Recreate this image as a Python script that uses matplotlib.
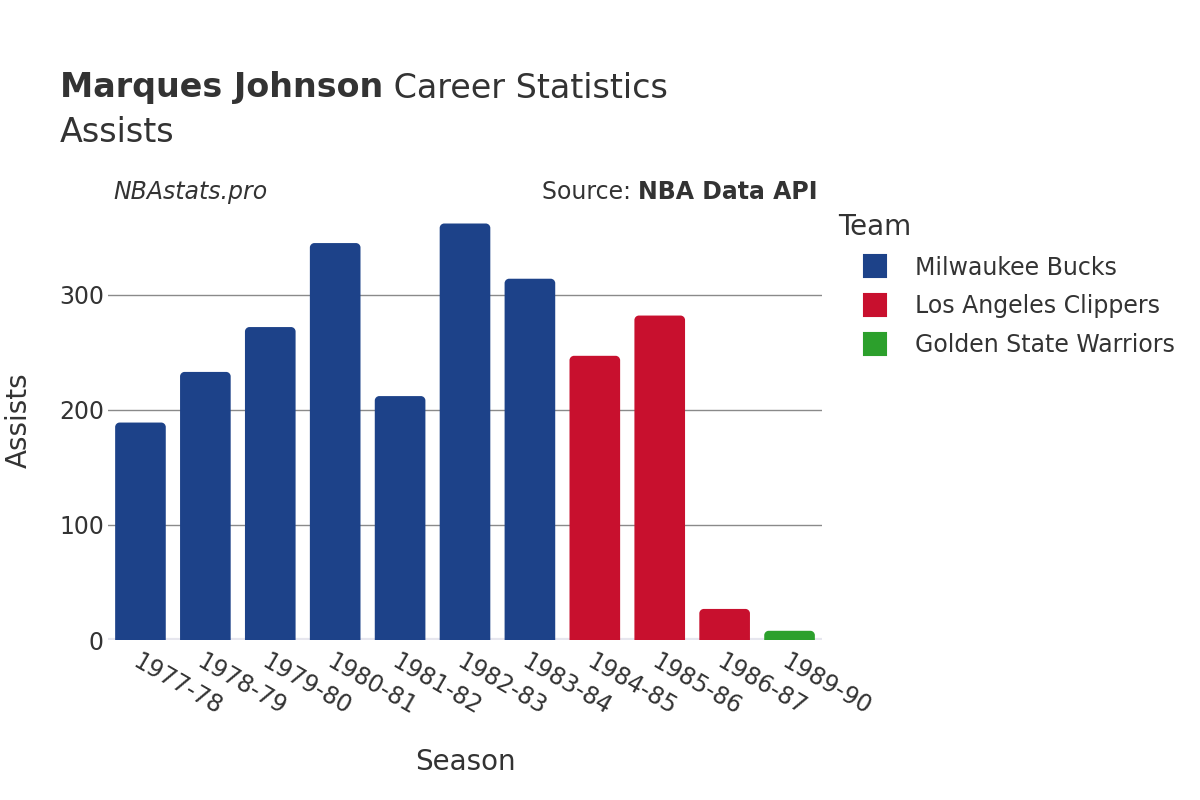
import matplotlib
matplotlib.use("Agg")
import matplotlib.pyplot as plt
from matplotlib.patches import PathPatch
from matplotlib.path import Path
from matplotlib.lines import Line2D

seasons = ["1977-78", "1978-79", "1979-80", "1980-81", "1981-82", "1982-83",
           "1983-84", "1984-85", "1985-86", "1986-87", "1989-90"]
assists = [189, 233, 272, 345, 212, 362, 314, 247, 282, 27, 8]
teams = ["Milwaukee Bucks"] * 7 + ["Los Angeles Clippers"] * 3 + ["Golden State Warriors"]

team_names = ["Milwaukee Bucks", "Los Angeles Clippers", "Golden State Warriors"]
team_colors = {"Milwaukee Bucks": "#1d4289",
               "Los Angeles Clippers": "#c8102e",
               "Golden State Warriors": "#2ca02c"}

TEXT = "#333333"
plt.rcParams["font.family"] = ["DejaVu Sans"]


def rounded_top_bar(x0, x1, top, rx, ry):
    """Bar path with the two top corners rounded (quarter ellipses in data units)."""
    k = 0.5523
    verts = [
        (x0, 0), (x0, top - ry),
        (x0, top - ry + k * ry), (x0 + rx - k * rx, top), (x0 + rx, top),
        (x1 - rx, top),
        (x1 - rx + k * rx, top), (x1, top - ry + k * ry), (x1, top - ry),
        (x1, 0), (x0, 0),
    ]
    codes = [Path.MOVETO, Path.LINETO,
             Path.CURVE4, Path.CURVE4, Path.CURVE4,
             Path.LINETO,
             Path.CURVE4, Path.CURVE4, Path.CURVE4,
             Path.LINETO, Path.CLOSEPOLY]
    return Path(verts, codes)


fig = plt.figure(figsize=(12, 8), dpi=100)
ax = fig.add_axes([0.09, 0.2, 0.595, 0.535])

bar_w = 0.78
y_max = 372
# axes is ~714px wide over 11 slots and ~428px tall over y_max units
px_x = 714 / len(seasons)
px_y = 428 / y_max
radius_px = 4.5
for i, (val, team) in enumerate(zip(assists, teams)):
    rx = radius_px / px_x
    ry = min(radius_px / px_y, val / 2)
    path = rounded_top_bar(i - bar_w / 2, i + bar_w / 2, val, rx, ry)
    ax.add_patch(PathPatch(path, facecolor=team_colors[team],
                           edgecolor="none", zorder=3))

ax.set_xlim(-0.5, len(seasons) - 0.5)
ax.set_ylim(0, y_max)
ax.set_xticks(range(len(seasons)))
ax.set_xticklabels(seasons, rotation=-30, ha="left", va="top",
                   rotation_mode="anchor", fontsize=17, color=TEXT)
ax.set_yticks([0, 100, 200, 300])
ax.set_yticklabels(["0", "100", "200", "300"], fontsize=17, color=TEXT)
ax.tick_params(axis="y", length=0, pad=3)
ax.tick_params(axis="x", length=0, pad=7)
ax.grid(axis="y", color="#8a8a8a", linewidth=1, zorder=0)
ax.axhline(0, color="#e6e6ee", linewidth=3, zorder=2)
for s in ax.spines.values():
    s.set_visible(False)

ax.set_xlabel("Season", fontsize=20, color=TEXT, labelpad=20)
ax.set_ylabel("Assists", fontsize=20, color=TEXT)
ax.yaxis.set_label_coords(-0.106, 0.514)

renderer = fig.canvas.get_renderer()
t1 = fig.text(60 / 1200, 0.89, "Marques Johnson", fontsize=24,
              fontweight="bold", color=TEXT, va="center")
bb = t1.get_window_extent(renderer)
fig.text(bb.x1 / 1200, 0.89, " Career Statistics", fontsize=24,
         color=TEXT, va="center")
fig.text(60 / 1200, 0.835, "Assists", fontsize=24, color=TEXT, va="center")

fig.text(113 / 1200, 1 - 192 / 800, "NBAstats.pro", fontsize=17,
         style="italic", color=TEXT, va="center")
s2 = fig.text(818 / 1200, 1 - 192 / 800, "NBA Data API", fontsize=17,
              fontweight="bold", color=TEXT, va="center", ha="right")
bb2 = s2.get_window_extent(renderer)
fig.text(bb2.x0 / 1200, 1 - 192 / 800, "Source: ", fontsize=17,
         color=TEXT, va="center", ha="right")

handles = [Line2D([0], [0], marker="s", linestyle="none", markersize=16,
                  markerfacecolor=team_colors[t], markeredgecolor=team_colors[t],
                  markeredgewidth=1.5)
           for t in team_names]
leg = fig.legend(handles, team_names, title="Team", loc="upper left",
                 bbox_to_anchor=(838 / 1200, 1 - 213 / 800), frameon=False,
                 fontsize=17, title_fontsize=20, labelspacing=0.62,
                 handlelength=3.1, handletextpad=0.15,
                 borderpad=0, borderaxespad=0)
leg._legend_box.align = "left"
for txt in leg.get_texts():
    txt.set_color(TEXT)
leg.get_title().set_color(TEXT)
for h in leg.legend_handles:
    h.set_markeredgewidth(1.5)
    h.set_solid_joinstyle("round")

fig.savefig("out.png", dpi=100)
